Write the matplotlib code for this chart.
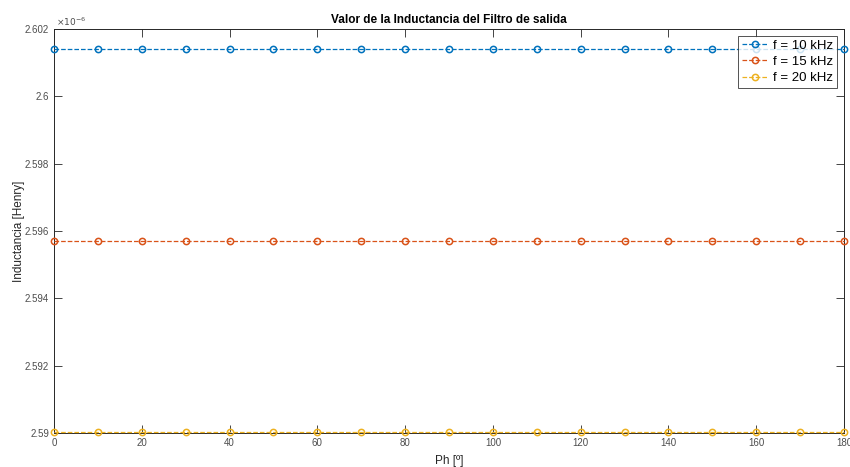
import numpy as np
import matplotlib
matplotlib.use('Agg')
import matplotlib.pyplot as plt

# data
ph = [0, 10, 20, 30, 40, 50, 60, 70, 80, 90, 100, 110, 120, 130, 140, 150, 160, 170, 180]
L_10k = [2.601406e-6] * len(ph)
L_15k = [2.595703e-6] * len(ph)
L_20k = [2.590020e-6] * len(ph)
labels = ['f = 10 kHz', 'f = 15 kHz', 'f = 20 kHz']
colors = ['#0072BD', '#D95319', '#EDB120']

plt.rcParams['font.family'] = ['Arial', 'Liberation Sans', 'DejaVu Sans']

fig = plt.figure(figsize=(8.5, 4.67), dpi=100)
ax = fig.add_axes([54/850, 34/467, 790/850, 404/467])

for y, lab, c in zip([L_10k, L_15k, L_20k], labels, colors):
    ax.plot(ph, np.array(y) * 1e6, '--o', color=c, label=lab, lw=0.9,
            markersize=4.5, markerfacecolor='none', markeredgewidth=1.1,
            clip_on=False, zorder=3)

ax.set_xlim(0, 180)
ax.set_ylim(2.59, 2.602)
ax.set_xticks(range(0, 181, 20))
ax.set_yticks([2.59, 2.592, 2.594, 2.596, 2.598, 2.6, 2.602])
ax.set_yticklabels(['2.59', '2.592', '2.594', '2.596', '2.598', '2.6', '2.602'])
ax.tick_params(direction='in', top=True, right=True, labelsize=7, colors='#262626',
               length=6, width=0.6, labelcolor='#4d4d4d')
for s in ax.spines.values():
    s.set_linewidth(0.7)
    s.set_color('#262626')
ax.text(0.003, 1.003, r'$\times10^{-6}$', transform=ax.transAxes, fontsize=6.5,
        color='#4d4d4d', va='bottom', ha='left')

ax.set_title('Valor de la Inductancia del Filtro de salida', fontsize=8.5,
             fontweight='bold', pad=4)
ax.set_xlabel('Ph [º]', fontsize=8.5, color='#262626', labelpad=5)
ax.set_ylabel('Inductancia [Henry]', fontsize=8.5, color='#262626', labelpad=0)

leg = ax.legend(loc='upper right', fontsize=9.5, frameon=True, fancybox=False,
                edgecolor='#262626', borderaxespad=0.5, handlelength=2.0,
                borderpad=0.3, labelspacing=0.3, handletextpad=0.4)
leg.get_frame().set_linewidth(0.7)
leg.set_zorder(5)

fig.savefig('out.png', dpi=100)
